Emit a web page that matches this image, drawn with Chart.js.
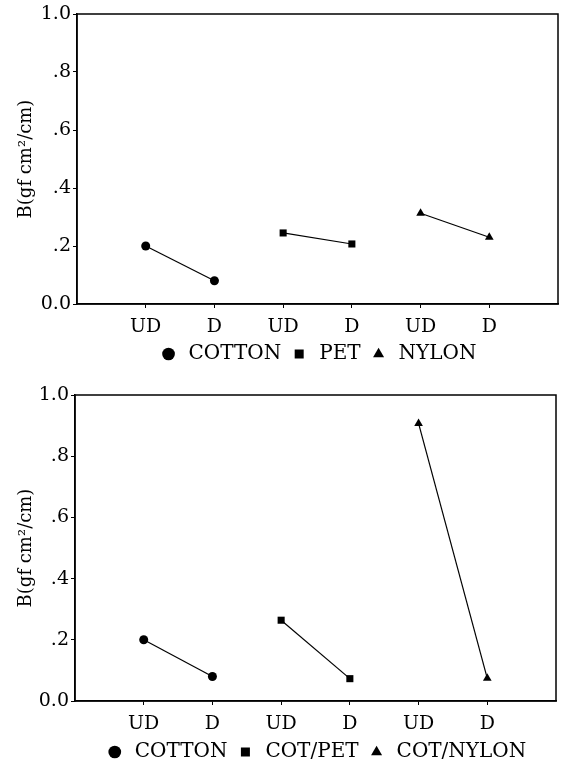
<!DOCTYPE html>
<html><head><meta charset="utf-8">
<script src="https://cdn.jsdelivr.net/npm/chart.js@4"></script>
<style>
body{margin:0;background:#fff;width:565px;height:764px;overflow:hidden}
.box{position:absolute;left:0;width:565px}
</style></head><body>
<div class="box" style="top:0;height:362px"><canvas id="top"></canvas></div>
<div class="box" style="top:362px;height:402px"><canvas id="bottom"></canvas></div>
<script>
var categories = ['UD','D','UD','D','UD','D'];
var yTickValues = [0, 0.2, 0.4, 0.6, 0.8, 1.0];
var yTickLabels = ['0.0','.2','.4','.6','.8','1.0'];
var markers = ['circle','rect','triangle'];

var topNames = ['COTTON','PET','NYLON'];
var topCotton = [0.20, 0.08];
var topPet = [0.245, 0.207];
var topNylon = [0.313, 0.23];

var botNames = ['COTTON','COT/PET','COT/NYLON'];
var botCotton = [0.20, 0.08];
var botCotPet = [0.264, 0.073];
var botCotNylon = [0.907, 0.074];

var serif = 'DejaVu Serif';
Chart.defaults.color = '#000';

// box round the plot area
var frame = {
  id: 'frame',
  afterDraw: function(c){
    var a = c.chartArea, ctx = c.ctx;
    ctx.save();
    ctx.strokeStyle = '#000';
    ctx.lineWidth = 1.5;
    ctx.strokeRect(a.left, a.top, a.right - a.left, a.bottom - a.top);
    ctx.restore();
  }
};

function makeChart(id, names, series, pad, yWidth, xHeight){
  var sets = series.map(function(vals, i){
    return {
      label: names[i],
      data: [{x: 2*i+1, y: vals[0]}, {x: 2*i+2, y: vals[1]}],
      borderColor: '#000',
      backgroundColor: '#000',
      borderWidth: 1.2,
      pointStyle: markers[i],
      pointRadius: markers[i] == 'circle' ? 4.5 : 5,
      pointBackgroundColor: '#000',
      pointBorderColor: '#000',
      pointBorderWidth: 0
    };
  });
  return new Chart(document.getElementById(id), {
    type: 'line',
    data: {datasets: sets},
    options: {
      responsive: true,
      maintainAspectRatio: false,
      animation: false,
      layout: {padding: pad},
      plugins: {
        tooltip: {enabled: false},
        legend: {
          position: 'bottom',
          fullSize: false,
          labels: {
            usePointStyle: true,
            boxWidth: 30,
            boxHeight: 9,
            padding: 8,
            color: '#000',
            font: {family: serif, size: 20}
          }
        }
      },
      scales: {
        x: {
          type: 'linear',
          min: 0,
          max: 7,
          afterBuildTicks: function(s){
            s.ticks = categories.map(function(c, i){ return {value: i+1}; });
          },
          afterFit: function(s){ s.height = xHeight; },
          ticks: {
            autoSkip: false,
            maxRotation: 0,
            padding: 8,
            font: {family: serif, size: 19},
            callback: function(v, i){ return categories[i]; }
          },
          grid: {drawOnChartArea: false, drawTicks: true, tickLength: 4, color: '#000'},
          border: {display: true, color: '#000', width: 1.5}
        },
        y: {
          min: 0,
          max: 1,
          afterBuildTicks: function(s){
            s.ticks = yTickValues.map(function(v){ return {value: v}; });
          },
          afterFit: function(s){ s.width = yWidth; },
          ticks: {
            padding: 2,
            font: {family: serif, size: 19},
            callback: function(v, i){ return yTickLabels[i]; }
          },
          grid: {drawOnChartArea: false, drawTicks: true, tickLength: 4, color: '#000'},
          border: {display: true, color: '#000', width: 1.5},
          title: {
            display: true,
            text: 'B(gf cm²/cm)',
            font: {family: serif, size: 18},
            padding: {top: 16, bottom: 0}
          }
        }
      }
    },
    plugins: [frame]
  });
}

makeChart('top', topNames, [topCotton, topPet, topNylon], {top: 14, right: 7, left: 0, bottom: -12}, 77, 32);
makeChart('bottom', botNames, [botCotton, botCotPet, botCotNylon], {top: 33, right: 9, left: 0, bottom: -8}, 75, 33);
</script>
</body></html>
